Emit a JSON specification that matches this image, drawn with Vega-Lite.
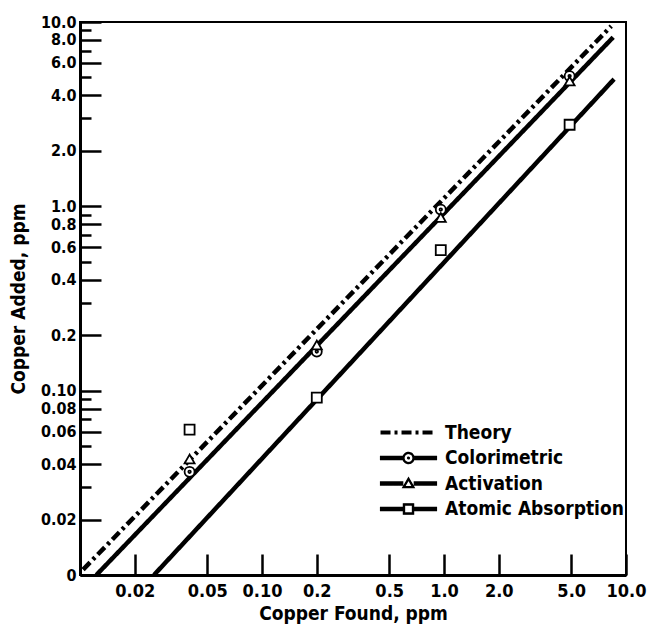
{
  "$schema": "https://vega.github.io/schema/vega-lite/v6.json",
  "width": 546,
  "height": 553,
  "autosize": "none",
  "padding": {"left": 80, "top": 22, "right": 23, "bottom": 50},
  "background": "white",
  "config": {
    "font": "DejaVu Sans Condensed, DejaVu Sans, sans-serif",
    "view": {"stroke": "black", "strokeWidth": 2},
    "axis": {
      "labelFontWeight": "bold",
      "labelFontSize": 18,
      "labelColor": "black",
      "titleFontSize": 19,
      "titleFontWeight": "bold",
      "titleColor": "black",
      "domainColor": "black",
      "domainWidth": 3,
      "tickColor": "black",
      "tickWidth": 2.5,
      "grid": false,
      "labelOverlap": false,
      "labelFlush": false,
      "labelBound": false
    },
    "legend": {"padding": 0, "labelLimit": 300}
  },
  "datasets": {
    "lines": [
      {"method": "Theory", "x": 0.0104, "y": 0.0107},
      {"method": "Theory", "x": 8.3, "y": 9.5},
      {"method": "Colorimetric", "x": 0.0123, "y": 0.01},
      {"method": "Colorimetric", "x": 8.5, "y": 8.26},
      {"method": "Atomic Absorption", "x": 0.0255, "y": 0.01},
      {"method": "Atomic Absorption", "x": 8.6, "y": 4.9}
    ],
    "points": [
      {"series": "Colorimetric", "x": 0.04, "y": 0.0363},
      {"series": "Colorimetric", "x": 0.2, "y": 0.163},
      {"series": "Colorimetric", "x": 0.96, "y": 0.96},
      {"series": "Colorimetric", "x": 4.9, "y": 5.09},
      {"series": "Activation", "x": 0.04, "y": 0.0426},
      {"series": "Activation", "x": 0.2, "y": 0.177},
      {"series": "Activation", "x": 0.96, "y": 0.87},
      {"series": "Activation", "x": 4.9, "y": 4.78},
      {"series": "Atomic Absorption", "x": 0.04, "y": 0.0614},
      {"series": "Atomic Absorption", "x": 0.2, "y": 0.0916},
      {"series": "Atomic Absorption", "x": 0.96, "y": 0.578},
      {"series": "Atomic Absorption", "x": 4.9, "y": 2.77}
    ]
  },
  "encoding": {
    "x": {
      "field": "x",
      "type": "quantitative",
      "scale": {"type": "log", "domain": [0.01, 10], "nice": false},
      "axis": {
        "title": "Copper Found, ppm",
        "values": [0.02, 0.05, 0.1, 0.2, 0.5, 1, 2, 5, 10],
        "labelExpr": "datum.value >= 1 ? format(datum.value, '.1f') : datum.value == 0.1 ? '0.10' : datum.value < 0.1 ? format(datum.value, '.2f') : format(datum.value, '.1f')",
        "tickSize": -21,
        "labelPadding": 28,
        "titlePadding": 4
      }
    },
    "y": {
      "field": "y",
      "type": "quantitative",
      "scale": {"type": "log", "domain": [0.01, 10], "nice": false},
      "axis": {
        "title": "Copper Added, ppm",
        "values": [0.01, 0.02, 0.03, 0.04, 0.05, 0.06, 0.07, 0.08, 0.09, 0.1, 0.2, 0.3, 0.4, 0.5, 0.6, 0.7, 0.8, 0.9, 1, 2, 3, 4, 5, 6, 7, 8, 9, 10],
        "labelExpr": "indexof([0.03,0.05,0.07,0.09,0.3,0.5,0.7,0.9,3,5,7,9], datum.value) >= 0 ? '' : datum.value == 0.01 ? '0' : datum.value == 0.1 ? '0.10' : datum.value < 0.1 ? format(datum.value, '.2f') : format(datum.value, '.1f')",
        "labelFontSize": 16,
        "tickSize": {"condition": {"test": "indexof([0.03,0.05,0.07,0.09,0.3,0.5,0.7,0.9,3,5,7,9], datum.value) >= 0", "value": -11}, "value": -21},
        "labelPadding": 25,
        "titlePadding": 12
      }
    }
  },
  "layer": [
    {
      "data": {"name": "lines"},
      "mark": {"type": "line", "color": "black", "strokeWidth": 4.5, "strokeCap": "butt"},
      "encoding": {
        "strokeDash": {
          "field": "method",
          "type": "nominal",
          "scale": {"domain": ["Theory", "Colorimetric", "Activation", "Atomic Absorption"], "range": [[10, 4, 3, 4], [1, 0], [1, 0], [1, 0]]},
          "legend": {
            "title": null,
            "orient": "none",
            "legendX": 319,
            "legendY": 401,
            "symbolSize": 348,
            "symbolStrokeWidth": 4,
            "symbolStrokeColor": "black",
            "labelOffset": 27,
            "labelFontSize": 19,
            "labelFontWeight": "bold",
            "labelColor": "black",
            "rowPadding": 5.5,
            "encode": {"symbols": {"update": {
              "shape": {"signal": "datum.value === 'Theory' ? 'M-3,0H3' : datum.value === 'Colorimetric' ? 'M-3,-0.17H-0.6V0.17H-3Z M0.6,-0.17H3V0.17H0.6Z M-0.6,0A0.6,0.6,0,1,1,0.6,0A0.6,0.6,0,1,1,-0.6,0Z M-0.48,0A0.48,0.48,0,1,0,0.48,0A0.48,0.48,0,1,0,-0.48,0Z M-0.1,0A0.1,0.1,0,1,1,0.1,0A0.1,0.1,0,1,1,-0.1,0Z' : datum.value === 'Activation' ? 'M-3,-0.17H-0.62V0.17H-3Z M0.62,-0.17H3V0.17H0.62Z M0,-0.62L0.62,0.45L-0.62,0.45Z M0,-0.38L-0.42,0.34L0.42,0.34Z' : 'M-3,-0.17H-0.55V0.17H-3Z M0.55,-0.17H3V0.17H0.55Z M-0.55,-0.55H0.55V0.55H-0.55Z M-0.42,-0.42V0.42H0.42V-0.42Z'"},
              "stroke": {"value": "black"},
              "fill": {"value": "black"},
              "fillOpacity": {"value": 1},
              "strokeWidth": {"signal": "datum.value === 'Theory' ? 4 : 1.2"}
            }}}
          }
        }
      }
    },
    {
      "data": {"name": "points"},
      "mark": {"type": "point", "filled": true, "fill": "white", "stroke": "black", "strokeWidth": 1.8, "size": 100, "opacity": 1},
      "encoding": {
        "shape": {
          "field": "series",
          "type": "nominal",
          "scale": {"domain": ["Colorimetric", "Activation", "Atomic Absorption"], "range": ["M-1,0A1,1,0,1,1,1,0A1,1,0,1,1,-1,0Z M-0.25,0A0.25,0.25,0,1,1,0.25,0A0.25,0.25,0,1,1,-0.25,0Z", "triangle-up", "square"]},
          "legend": null
        }
      }
    }
  ]
}
